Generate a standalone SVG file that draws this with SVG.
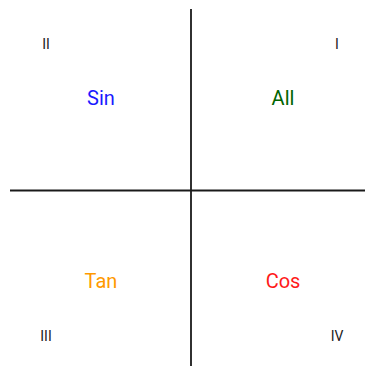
<svg xmlns="http://www.w3.org/2000/svg" width="365" height="366" viewBox="0 0 365 366">
<style>
.ax{stroke:#1a1a1a;stroke-width:1.8;fill:none}
.q{font-family:Roboto,"Liberation Sans",sans-serif;font-size:20px;text-anchor:middle}
.n{font-family:Roboto,"Liberation Sans",sans-serif;font-size:14px;text-anchor:middle;fill:#222}
</style>
<rect width="365" height="366" fill="#fff"/>
<g id="connectors">
<line class="ax" x1="191" y1="9" x2="191" y2="366"/>
<line class="ax" x1="10" y1="190.5" x2="365" y2="190.5"/>
</g>
<g id="q1"><text class="n" x="337" y="48.5">I</text><text class="q" x="283" y="105" fill="#006400">All</text></g>
<g id="q2"><text class="n" x="46" y="48.5">II</text><text class="q" x="101" y="105" fill="#1a1aff">Sin</text></g>
<g id="q3"><text class="n" x="46" y="340.5">III</text><text class="q" x="101" y="288" fill="#ff9900">Tan</text></g>
<g id="q4"><text class="n" x="337" y="340.5">IV</text><text class="q" x="283" y="288" fill="#ff1a1a">Cos</text></g>
</svg>
